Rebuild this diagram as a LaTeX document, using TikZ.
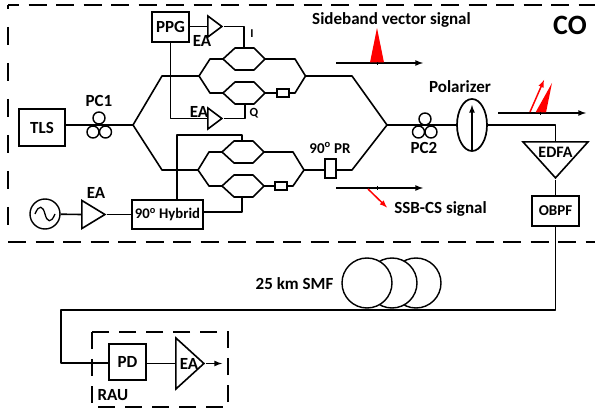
\documentclass[tikz,border=0pt]{standalone}
\usepackage{fontspec}
\setmainfont{Carlito}
\usetikzlibrary{shapes.geometric}
\definecolor{sigred}{RGB}{255,0,0}
\newcommand{\fontlabel}{\fontsize{17}{19}\selectfont\bfseries}
\newcommand{\fontsmall}{\fontsize{15}{17}\selectfont\bfseries}
\tikzset{
    x=1pt, y=-1pt,
    wire/.style={line width=1.6pt, line join=round},
    frame/.style={line width=1.7pt, dash pattern=on 18pt off 9.5pt},
    framev/.style={line width=1.7pt, dash pattern=on 18pt off 18pt},
    box/.style={draw, rectangle, line width=1.7pt, inner sep=0pt, font=\fontlabel},
    txt/.style={inner sep=0pt, font=\fontlabel},
    amp/.style={draw, isosceles triangle, isosceles triangle stretches, anchor=apex, line width=1.6pt, inner sep=0pt},
    coil/.style={draw, circle, fill=white, line width=1.4pt, inner sep=0pt, minimum size=50pt},
    sigaxis/.style={line width=1.6pt, -latex},
    sigline/.style={sigred, line width=1.5pt, -latex},
    ring/.style={draw, circle, line width=1.4pt, inner sep=0pt, minimum size=12pt},
    mzm/.pic={
        \draw[wire] (-21,0) -- (-9,-11) -- (10,-11) -- (21,0) -- (10,11) -- (-9,11) -- cycle;
        \coordinate (-in) at (-21,0);
        \coordinate (-out) at (21,0);
        \coordinate (-top) at (0,-11);
        \coordinate (-bot) at (0,11);
    }
}
\begin{document}
\begin{tikzpicture}
    \useasboundingbox (0,0) rectangle (595,414);

    % central office and remote unit
    \coordinate (co-a) at (595,5);
    \coordinate (co-b) at (8,5);
    \coordinate (co-c) at (8,242);
    \coordinate (co-d) at (595,242);
    \draw[frame, dash phase=7pt] (co-b) -- (co-a);
    \draw[framev, dash phase=14pt] (co-b) -- (co-c);
    \draw[frame] (co-c) -- (co-d);
    \draw[frame, dash pattern=on 17pt off 10pt] (92,332) rectangle (228,407);
    \node[txt, font=\fontsize{28}{30}\selectfont\bfseries] (co) at (570,25) {CO};
    \node[txt] (rau) at (113,395) {RAU};

    % sources
    \node[box, minimum width=46pt, minimum height=37pt] (tls) at (42,127.5) {TLS};
    \node[ring, minimum size=30pt] (rf) at (45,214) {};
    \draw[line width=1.3pt] (35,214) .. controls (39,204) and (43,206) .. (45,214) .. controls (47,222) and (51,224) .. (55,214);
    \node[amp, minimum width=28pt, minimum height=23pt] (ea-rf) at (107,214.5) {};
    \node[txt] (ea-rf-l) at (96,193) {EA};
    \node[box, minimum width=71pt, minimum height=29pt, font=\fontsize{14.7}{16}\selectfont\bfseries] (hybrid) at (167.5,214.5) {90\textsuperscript{o} Hybrid};
    \node[box, minimum width=37pt, minimum height=30pt] (ppg) at (170.5,27) {PPG};
    \node[amp, minimum width=21pt, minimum height=14pt] (ea-i) at (224,26.5) {};
    \node[txt] (ea-i-l) at (202,41) {EA};
    \node[amp, minimum width=21pt, minimum height=14pt] (ea-q) at (224,118.5) {};
    \node[txt] (ea-q-l) at (199,112) {EA};
    \node[txt, font=\fontsize{12}{13}\selectfont\bfseries] (l-i) at (252,34) {I};
    \node[txt, font=\fontsize{12.5}{13}\selectfont\bfseries] (l-q) at (254,113) {Q};

    % modulators
    \path
        (244,59) pic (m1) {mzm}
        (244,93) pic (m2) {mzm}
        (243,152) pic (m3) {mzm}
        (243,186) pic (m4) {mzm};
    \node[box, fill=white, minimum width=12pt, minimum height=8pt, line width=1.4pt] (ps-up) at (283,93) {};
    \node[box, fill=white, minimum width=12pt, minimum height=8pt, line width=1.4pt] (ps-low) at (281,186) {};
    \node[box, fill=white, minimum width=11pt, minimum height=19pt] (pr) at (330.5,168.5) {};
    \node[txt, font=\fontsmall] (pr-l) at (330,148) {90\textsuperscript{o} PR};

    % polarization controllers
    \coordinate (split) at (133,125);
    \coordinate (merge) at (387,125);
    \node[ring] (pc1-a) at (99,118) {};
    \node[ring] (pc1-b) at (93,132) {};
    \node[ring] (pc1-c) at (105.5,132) {};
    \node[txt] (pc1-l) at (99,101) {PC1};
    \node[ring] (pc2-a) at (425,119) {};
    \node[ring] (pc2-b) at (418.5,132) {};
    \node[ring] (pc2-c) at (431,132) {};
    \node[txt] (pc2-l) at (424,148) {PC2};

    % polarizer and amplifier
    \node[draw, ellipse, line width=1.7pt, inner sep=0pt, minimum width=30pt, minimum height=52pt] (pol) at (472,125) {};
    \node[txt] (pol-l) at (460,87) {Polarizer};
    \coordinate (pol-base) at (472,150);
    \coordinate (pol-tip) at (472,105);
    \draw[wire, -latex] (pol-base) -- (pol-tip);
    \node[amp, shape border rotate=270, minimum width=65pt, minimum height=36pt] (edfa) at (555.5,180) {};
    \node[txt, font=\fontsize{16}{18}\selectfont\bfseries] (edfa-l) at (555.5,152) {EDFA};
    \node[box, minimum width=47pt, minimum height=30pt, font=\fontsmall] (obpf) at (555.5,211) {OBPF};

    % fibre
    \node[coil] (coil-c) at (416,283) {};
    \node[coil] (coil-b) at (392,283) {};
    \node[coil] (coil-a) at (367,283) {};
    \node[txt] (smf-l) at (294.5,284) {25 km SMF};
    \coordinate (smf-a) at (555.5,310);
    \coordinate (smf-b) at (61,310);
    \coordinate (smf-c) at (61,363);
    \node[box, minimum width=37pt, minimum height=36pt] (pd) at (127.5,362) {PD};
    \node[amp, minimum width=51pt, minimum height=28pt] (ea-rau) at (206,363.5) {};
    \node[txt] (ea-rau-l) at (189,364) {EA};
    \coordinate (rau-out) at (222,363.5);

    % optical path
    \draw[wire] (tls.east |- split) -- (split);
    \draw[wire] (split) -- (162,76) -- (199,76) -- (210,59) -- (m1-in) (m1-out) -- (295,59) -- (305.5,76) -- (352,76) -- (merge);
    \draw[wire] (199,76) -- (210,93) -- (m2-in) (m2-out) -- (ps-up) -- (295,93) -- (305.5,76);
    \draw[wire] (split) -- (162,170) -- (198,170) -- (209,152) -- (m3-in) (m3-out) -- (293,152) -- (304,170) -- (pr.west |- 304,170) (pr.east |- 304,170) -- (352,170) -- (merge);
    \draw[wire] (198,170) -- (209,186) -- (m4-in) (m4-out) -- (ps-low) -- (293,186) -- (304,170);
    \draw[wire] (merge) -- (pol.west);
    \draw[wire] (pol.east) -- (555.5,125) -- (edfa.lower side);
    \draw[wire] (edfa.apex) -- (obpf);
    \draw[wire] (obpf) -- (smf-a) -- (smf-b) -- (smf-c) -- (smf-c -| pd.west);
    \draw[wire] (pd.east |- ea-rau.apex) -- (ea-rau.lower side);
    \draw[wire, -latex] (ea-rau.apex) -- (rau-out);

    % electrical path
    \draw[wire] (rf) -- (ea-rf.lower side);
    \draw[wire] (ea-rf.apex) -- (hybrid.west |- ea-rf.apex);
    \draw[wire] (ppg.east |- ea-i.apex) -- (ea-i.lower side);
    \draw[wire] (ea-i.apex) -- (244,26.5) -- (m1-top);
    \draw[wire] (ppg.south) -- (ppg.south |- ea-q.apex) -- (ea-q.lower side);
    \draw[wire] (ea-q.apex) -- (245,118.5) -- (245,104);
    \draw[wire] (177,200) -- (177,135) -- (242,135) -- (242,141);
    \draw[wire] (203,212) -- (242,212) -- (242,197);

    % spectra
    \coordinate (s1-a) at (336,63);
    \coordinate (s1-b) at (423,63);
    \coordinate (s2-a) at (498,113);
    \coordinate (s2-b) at (586,113);
    \coordinate (s3-a) at (336,188);
    \coordinate (s3-b) at (423,188);
    \draw[sigaxis] (s1-a) -- (s1-b);
    \draw[sigaxis] (s2-a) -- (s2-b);
    \draw[sigaxis] (s3-a) -- (s3-b);
    \fill[sigred] (370,62.5) -- (377,28) -- (384,62.5) -- cycle;
    \fill[sigred] (535.5,112.5) -- (552,83) -- (546,112.5) -- cycle;
    \coordinate (s2-arrow) at (530,112);
    \coordinate (s2-head) at (544,80);
    \coordinate (s3-arrow) at (368,189);
    \coordinate (s3-head) at (387,207.5);
    \draw[sigline] (s2-arrow) -- (s2-head);
    \draw[sigline] (s3-arrow) -- (s3-head);
    \draw[line width=1pt] (377,62) -- (377,65) (540,112) -- (540,115) (377,186) -- (377,190);
    \node[txt] (s1-l) at (391.5,20) {Sideband vector signal};
    \node[txt] (s3-l) at (440.5,209) {SSB-CS signal};
\end{tikzpicture}
\end{document}
